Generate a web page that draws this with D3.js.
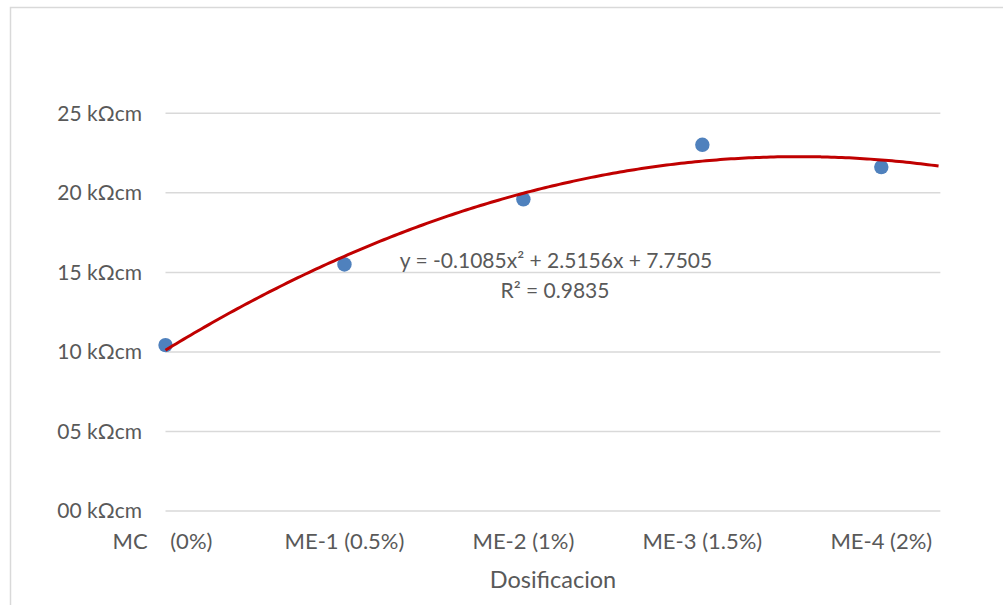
<!DOCTYPE html>
<html>
<head>
<meta charset="utf-8">
<script src="https://cdn.jsdelivr.net/npm/d3@7"></script>
<style>
  html, body { margin: 0; padding: 0; background: #ffffff; }
  svg { display: block; }
  text { font-family: "Lato", "Liberation Sans", sans-serif; fill: #595959; }
</style>
</head>
<body>
<svg id="chart" width="1003" height="605"></svg>
<script>
// ---- data ----
const categories = ["MC    (0%)", "ME-1 (0.5%)", "ME-2 (1%)", "ME-3 (1.5%)", "ME-4 (2%)"];
const xPositions = [1, 2, 3, 4, 5];
const resistivity = [10.43, 15.5, 19.59, 23.02, 21.62];
const yTicks = [0, 5, 10, 15, 20, 25];
const yTickLabels = ["00 kΩcm", "05 kΩcm", "10 kΩcm", "15 kΩcm", "20 kΩcm", "25 kΩcm"];
const trendForward = 0.33;
const equationLabel = "y = -0.1085x² + 2.5156x + 7.7505";
const r2Label = "R² = 0.9835";
const xAxisTitle = "Dosificacion";

// ---- layout ----
const svg = d3.select("#chart");
const fontSize = 21;

const x = d3.scaleLinear().domain([1, 5]).range([165.5, 881.3]);
const y = d3.scaleLinear().domain([0, 25]).range([511, 113.3]);
const xEnd = 5 + trendForward;

// chart border
svg.append("rect")
  .attr("x", 10.5).attr("y", 7.5)
  .attr("width", 1100).attr("height", 700)
  .attr("fill", "none").attr("stroke", "#d9d9d9").attr("stroke-width", 1.5);

// gridlines
svg.append("g").selectAll("line").data(yTicks).join("line")
  .attr("x1", x(1)).attr("x2", x(xEnd))
  .attr("y1", d => y(d)).attr("y2", d => y(d))
  .attr("stroke", "#d9d9d9").attr("stroke-width", 1.5);

// y labels
svg.append("g").selectAll("text").data(yTicks).join("text")
  .attr("x", 142).attr("y", d => y(d)).attr("dy", "0.35em")
  .attr("text-anchor", "end")
  .style("font-size", fontSize + "px")
  .text((d, i) => yTickLabels[i]);

// x labels
svg.append("g").selectAll("text").data(categories).join("text")
  .attr("x", (d, i) => x(xPositions[i]) - (i === 0 ? 3 : 0))
  .attr("y", 549.3)
  .attr("text-anchor", "middle")
  .attr("xml:space", "preserve")
  .style("white-space", "pre")
  .style("font-size", "22px")
  .text(d => d);

// axis title
svg.append("text")
  .attr("x", 553).attr("y", 588.3)
  .attr("text-anchor", "middle")
  .style("font-size", "23.5px")
  .text(xAxisTitle);

// polynomial (order 2) least-squares trendline from data
function polyFit2(xs, ys) {
  const n = xs.length;
  let s = [0,0,0,0,0], t = [0,0,0];
  for (let i = 0; i < n; i++) {
    const xi = xs[i], yi = ys[i];
    for (let k = 0; k < 5; k++) s[k] += Math.pow(xi, k);
    for (let k = 0; k < 3; k++) t[k] += Math.pow(xi, k) * yi;
  }
  const A = [[s[0], s[1], s[2], t[0]], [s[1], s[2], s[3], t[1]], [s[2], s[3], s[4], t[2]]];
  for (let i = 0; i < 3; i++) {
    let p = i;
    for (let r = i + 1; r < 3; r++) if (Math.abs(A[r][i]) > Math.abs(A[p][i])) p = r;
    [A[i], A[p]] = [A[p], A[i]];
    for (let r = 0; r < 3; r++) {
      if (r === i) continue;
      const f = A[r][i] / A[i][i];
      for (let c = i; c < 4; c++) A[r][c] -= f * A[i][c];
    }
  }
  return [A[0][3] / A[0][0], A[1][3] / A[1][1], A[2][3] / A[2][2]];
}
const coef = polyFit2(xPositions, resistivity);
const trendPts = d3.range(1, xEnd + 0.0001, 0.02).map(v => [v, coef[0] + coef[1] * v + coef[2] * v * v]);

// points
svg.append("g").selectAll("circle").data(resistivity).join("circle")
  .attr("cx", (d, i) => x(xPositions[i]))
  .attr("cy", d => y(d))
  .attr("r", 7.2)
  .attr("fill", "#4f81bd");

svg.append("path")
  .datum(trendPts)
  .attr("d", d3.line().x(d => x(d[0])).y(d => y(d[1])).curve(d3.curveMonotoneX))
  .attr("fill", "none").attr("stroke", "#c00000").attr("stroke-width", 3);

// equation labels
svg.append("text")
  .attr("x", 556).attr("y", 268.3)
  .attr("text-anchor", "middle")
  .style("font-size", fontSize + "px")
  .text(equationLabel);
svg.append("text")
  .attr("x", 555).attr("y", 298.3)
  .attr("text-anchor", "middle")
  .style("font-size", fontSize + "px")
  .text(r2Label);
</script>
</body>
</html>
